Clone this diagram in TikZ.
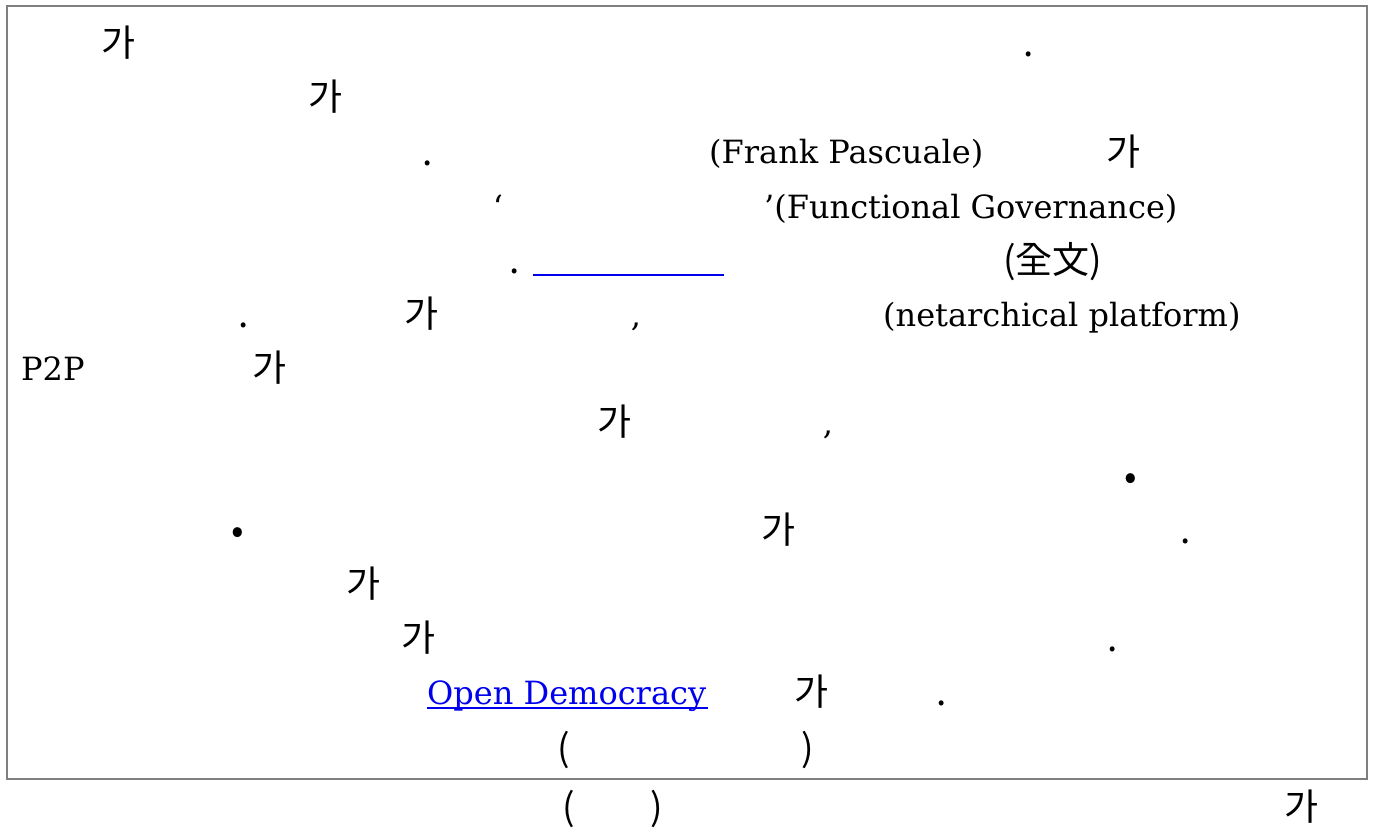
\documentclass[tikz,border=0pt]{standalone}
\usepackage{fontspec}
\setmainfont{DejaVu Serif}
\newfontfamily\kr{Noto Sans CJK KR}
\definecolor{boxgray}{HTML}{7F7F7F}
\definecolor{linkblue}{HTML}{0000EE}
\begin{document}
\begin{tikzpicture}[x=1pt,y=-1pt,
  lat/.style={inner sep=0pt, anchor=base west, font=\fontsize{32}{38}\selectfont},
  kor/.style={inner sep=0pt, anchor=base west, font={\kr\fontsize{37}{42}\selectfont}},
  korc/.style={inner sep=0pt, anchor=base, font={\kr\fontsize{37}{42}\selectfont}},
  latc/.style={inner sep=0pt, anchor=base, font=\fontsize{32}{38}\selectfont},
  link/.style={lat, text=linkblue}]
\useasboundingbox (0,0) rectangle (1381,832);
\fill[white] (0,0) rectangle (1381,832);
\draw[boxgray, line width=2pt] (7,6) rectangle (1367,779);
% line 1
\node[kor] (l1a) at (101,57) {가};
\node[korc] (l1b) at (1029,57) {.};
% line 2
\node[kor] (l2a) at (308,111) {가};
% line 3
\node[korc] (l3a) at (428,165) {.};
\node[lat] (l3b) at (709,164) {(Frank Pascuale)};
\node[kor] (l3c) at (1106,165) {가};
% line 4
\node[latc] (l4a) at (498,218) {‘};
\node[lat] (l4b) at (764,218) {’(Functional Governance)};
% line 5
\node[korc] (l5a) at (515,273) {.};
\draw[linkblue, line width=1.8pt] (533,275) -- (724,275);
\node[kor] (l5c) at (1003,273) {(全文)};
% line 6
\node[korc] (l6a) at (244,327) {.};
\node[kor] (l6b) at (404,327) {가};
\node[latc] (l6c) at (636,326) {,};
\node[lat] (l6d) at (883,326) {(netarchical platform)};
% line 7
\node[lat] (l7a) at (21,380) {P2P};
\node[kor] (l7b) at (252,381) {가};
% line 8
\node[kor] (l8a) at (597,435) {가};
\node[latc] (l8b) at (828,434) {,};
% line 9
\node[korc] (l9a) at (1131,489) {•};
% line 10
\node[korc] (l10a) at (238,543) {•};
\node[kor] (l10b) at (761,543) {가};
\node[korc] (l10c) at (1186,543) {.};
% line 11
\node[kor] (l11a) at (346,597) {가};
% line 12
\node[kor] (l12a) at (401,651) {가};
\node[korc] (l12b) at (1113,651) {.};
% line 13
\node[link] (l13a) at (427,704) {Open Democracy};
\draw[linkblue, line width=1.8pt] (427,708) -- (708,708);
\node[kor] (l13b) at (794,705) {가};
\node[korc] (l13c) at (942,705) {.};
% line 14
\node[kor] (l14a) at (557,761) {(};
\node[kor] (l14b) at (801,761) {)};
% below box
\node[kor] (b1) at (562,820) {(};
\node[kor] (b2) at (650,820) {)};
\node[kor] (b3) at (1284,820) {가};
\end{tikzpicture}
\end{document}
